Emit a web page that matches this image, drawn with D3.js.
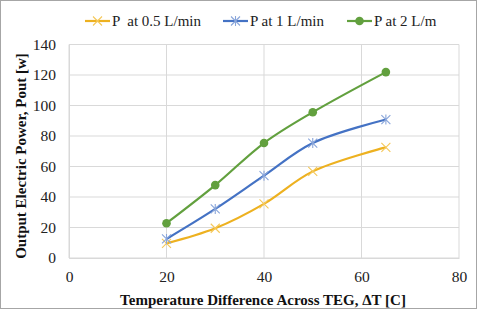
<!DOCTYPE html>
<html><head><meta charset="utf-8">
<script src="https://cdn.jsdelivr.net/npm/d3@7"></script>
<style>body{margin:0;background:#fff}svg{display:block}</style>
</head><body>
<svg id="c" width="480" height="311"></svg>
<script>
const temps = [20, 30, 40, 50, 65];
const p05 = [9.6, 19.5, 35.5, 56.8, 72.6];
const p1 = [12.5, 32.2, 54.0, 75.4, 90.8];
const p2 = [22.8, 47.8, 75.4, 95.6, 121.9];
const seriesNames = ["P  at 0.5 L/min", "P at 1 L/min", "P at 2 L/m"];
const xTicks = [0, 20, 40, 60, 80];
const yTicks = [0, 20, 40, 60, 80, 100, 120, 140];

const svg = d3.select("#c");
const font = "'Liberation Serif','Times New Roman',serif";
svg.append("rect").attr("x",0.5).attr("y",0.5).attr("width",476).attr("height",308)
  .attr("fill","#fff").attr("stroke","#a6a6a6").attr("stroke-width",1);

const x = d3.scaleLinear().domain([0,80]).range([69,459]);
const y = d3.scaleLinear().domain([0,140]).range([258,44.5]);

const g = svg.append("g");
g.selectAll(".hg").data(yTicks).join("line")
  .attr("x1",x(0)).attr("x2",x(80)).attr("y1",d=>y(d)).attr("y2",d=>y(d))
  .attr("stroke","#d9d9d9").attr("stroke-width",1);
g.selectAll(".vg").data(xTicks).join("line")
  .attr("y1",y(0)).attr("y2",y(140)).attr("x1",d=>x(d)).attr("x2",d=>x(d))
  .attr("stroke","#d9d9d9").attr("stroke-width",1);

const xAxis = d3.axisBottom(x).tickValues(xTicks).tickSize(0).tickPadding(13);
const xa = svg.append("g").attr("transform",`translate(0,${y(0)})`).call(xAxis);
xa.select(".domain").attr("stroke","#d9d9d9");
xa.selectAll("text").attr("font-family",font).attr("font-size","15.5px").attr("fill","#222");
const yAxis = d3.axisLeft(y).tickValues(yTicks).tickSize(0).tickPadding(13);
const ya = svg.append("g").attr("transform",`translate(${x(0)},0)`).call(yAxis);
ya.select(".domain").attr("stroke","#d9d9d9");
ya.selectAll("text").attr("font-family",font).attr("font-size","15.5px").attr("fill","#222");

svg.append("text").attr("x",263).attr("y",305).attr("text-anchor","middle")
  .attr("font-family",font).attr("font-weight","bold").attr("font-size","15px").attr("fill","#111")
  .text("Temperature Difference Across TEG, ΔT [C]");
svg.append("text").attr("transform","translate(26,156) rotate(-90)").attr("text-anchor","middle")
  .attr("font-family",font).attr("font-weight","bold").attr("font-size","15px").attr("fill","#111")
  .text("Output Electric Power, Pout [w]");

const colors = ["#EDB120","#4472C4","#62A03E"];
const markColors = ["#F5C85A","#8AA6DA","#62A03E"];
const datasets = [p05, p1, p2];
const line = d3.line().x(d=>x(d[0])).y(d=>y(d[1])).curve(d3.curveCatmullRom.alpha(0.5));

function marker(sel, type, cx, cy){
  if(type===2){
    sel.append("circle").attr("cx",cx).attr("cy",cy).attr("r",4.3).attr("fill",colors[2]);
  } else {
    const s=4.5;
    sel.append("path").attr("d",`M${cx-s},${cy-s}L${cx+s},${cy+s}M${cx-s},${cy+s}L${cx+s},${cy-s}`+(type===1?`M${cx},${cy-s-0.5}L${cx},${cy+s+0.5}`:""))
      .attr("stroke",markColors[type]).attr("stroke-width",1.1).attr("fill","none");
  }
}

datasets.forEach((vals,i)=>{
  const pts = temps.map((t,j)=>[t,vals[j]]);
  svg.append("path").attr("d",line(pts)).attr("fill","none").attr("stroke",colors[i]).attr("stroke-width",2.2);
  const mg = svg.append("g");
  pts.forEach(p=>marker(mg,i,x(p[0]),y(p[1])));
});

const legX = [85,223,347];
seriesNames.forEach((n,i)=>{
  const lg = svg.append("g");
  lg.append("line").attr("x1",legX[i]).attr("x2",legX[i]+25).attr("y1",21).attr("y2",21)
    .attr("stroke",colors[i]).attr("stroke-width",2.2);
  marker(lg,i,legX[i]+12.5,21);
  lg.append("text").attr("x",legX[i]+27).attr("y",26).attr("font-family",font).attr("font-size","15px").attr("fill","#222").style("white-space","pre").text(n);
});
</script>
</body></html>
